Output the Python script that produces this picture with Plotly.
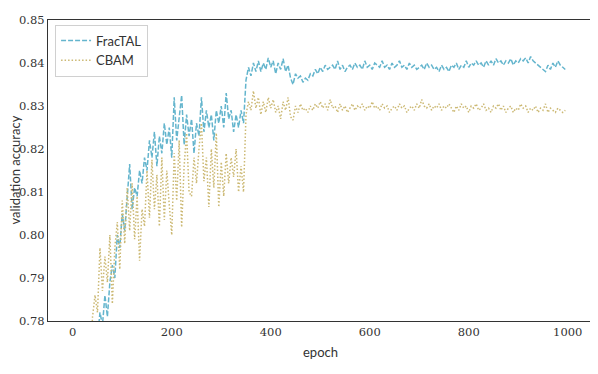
import plotly.graph_objects as go

# validation accuracy, one value every 5 epochs (0, 5, ..., 995)
fractal = [
    0.55, 0.66, 0.70, 0.72, 0.735, 0.745, 0.755, 0.762, 0.768, 0.774,
    0.776, 0.782, 0.779, 0.786, 0.781, 0.789, 0.793, 0.790, 0.800, 0.797,
    0.805, 0.801, 0.808, 0.8165, 0.806, 0.811, 0.809, 0.815, 0.812, 0.818,
    0.815, 0.822, 0.818, 0.824, 0.816, 0.823, 0.819, 0.826, 0.821, 0.825,
    0.818, 0.832, 0.822, 0.827, 0.8325, 0.821, 0.828, 0.823, 0.827, 0.819,
    0.826, 0.823, 0.832, 0.824, 0.829, 0.825, 0.828, 0.822, 0.829, 0.826,
    0.830, 0.825, 0.833, 0.827, 0.829, 0.824, 0.828, 0.825, 0.829, 0.826,
    0.836, 0.839, 0.837, 0.840, 0.838, 0.8405, 0.838, 0.840, 0.8385, 0.8412,
    0.839, 0.8405, 0.8375, 0.840, 0.8385, 0.841, 0.838, 0.8395, 0.8365, 0.835,
    0.8375, 0.8365, 0.837, 0.8355, 0.8365, 0.836, 0.8375, 0.837, 0.8385, 0.8375,
    0.839, 0.838, 0.8395, 0.8385, 0.839, 0.8395, 0.8385, 0.8405, 0.8385, 0.8395,
    0.838, 0.839, 0.8395, 0.8385, 0.840, 0.839, 0.8395, 0.8385, 0.8405, 0.839,
    0.8395, 0.8385, 0.840, 0.8395, 0.839, 0.8405, 0.839, 0.8395, 0.8385, 0.840,
    0.839, 0.8395, 0.8405, 0.839, 0.8395, 0.8385, 0.840, 0.839, 0.8395, 0.8385,
    0.839, 0.8395, 0.8385, 0.840, 0.839, 0.8395, 0.8385, 0.839, 0.838, 0.8395,
    0.8385, 0.839, 0.838, 0.8395, 0.839, 0.840, 0.8385, 0.8395, 0.839, 0.8405,
    0.839, 0.840, 0.8395, 0.8405, 0.8395, 0.840, 0.839, 0.8405, 0.8395, 0.8405,
    0.8395, 0.841, 0.840, 0.8405, 0.8395, 0.8405, 0.840, 0.841, 0.8395, 0.8405,
    0.840, 0.841, 0.8405, 0.8412, 0.840, 0.8415, 0.8405, 0.840, 0.8395, 0.839,
    0.8385, 0.838, 0.8395, 0.8385, 0.840, 0.839, 0.8405, 0.8395, 0.839, 0.8385,
]

cbam = [
    0.50, 0.62, 0.68, 0.71, 0.73, 0.75, 0.76, 0.772, 0.781, 0.786,
    0.782, 0.797, 0.787, 0.795, 0.789, 0.800, 0.784, 0.797, 0.803, 0.792,
    0.808, 0.798, 0.811, 0.801, 0.812, 0.799, 0.809, 0.794, 0.806, 0.802,
    0.815, 0.804, 0.8175, 0.806, 0.814, 0.802, 0.818, 0.8035, 0.815, 0.807,
    0.800, 0.819, 0.808, 0.822, 0.8018, 0.816, 0.8237, 0.810, 0.809, 0.818,
    0.812, 0.820, 0.826, 0.8125, 0.818, 0.8065, 0.820, 0.811, 0.8237, 0.8065,
    0.817, 0.809, 0.819, 0.812, 0.818, 0.8135, 0.820, 0.810, 0.816, 0.810,
    0.828, 0.831, 0.829, 0.8335, 0.8295, 0.832, 0.828, 0.831, 0.8285, 0.832,
    0.8295, 0.8315, 0.8285, 0.830, 0.827, 0.831, 0.829, 0.832, 0.8275, 0.8267,
    0.830, 0.8285, 0.8305, 0.829, 0.8295, 0.8285, 0.830, 0.829, 0.8305, 0.8295,
    0.831, 0.8295, 0.8305, 0.829, 0.8315, 0.8295, 0.830, 0.8285, 0.8305, 0.829,
    0.830, 0.8285, 0.8295, 0.8305, 0.829, 0.830, 0.8295, 0.8305, 0.829, 0.830,
    0.8295, 0.831, 0.8295, 0.830, 0.829, 0.8305, 0.8295, 0.830, 0.8285, 0.8295,
    0.830, 0.829, 0.8305, 0.8295, 0.830, 0.8285, 0.8295, 0.830, 0.829, 0.8305,
    0.8295, 0.8315, 0.830, 0.8295, 0.8305, 0.829, 0.830, 0.8295, 0.8305, 0.829,
    0.830, 0.8295, 0.8305, 0.8295, 0.8285, 0.830, 0.829, 0.8305, 0.8295, 0.830,
    0.8285, 0.830, 0.8295, 0.8305, 0.829, 0.8295, 0.8305, 0.829, 0.8295, 0.8285,
    0.830, 0.8295, 0.8305, 0.829, 0.830, 0.8285, 0.8295, 0.830, 0.8285, 0.8295,
    0.829, 0.8305, 0.8295, 0.830, 0.8285, 0.8295, 0.829, 0.830, 0.8285, 0.8295,
    0.829, 0.8305, 0.8285, 0.8295, 0.829, 0.8285, 0.8295, 0.829, 0.8285, 0.829,
]

epochs = list(range(0, 5 * len(fractal), 5))

x_ticks = [0, 200, 400, 600, 800, 1000]
y_ticks = [0.78, 0.79, 0.80, 0.81, 0.82, 0.83, 0.84, 0.85]

SANS = "Lato"
SERIF = "DejaVu Serif"
INK = "#333333"

fig = go.Figure()
fig.add_trace(go.Scatter(
    x=epochs, y=fractal, mode="lines", name="FracTAL",
    line=dict(color="#64B5CD", width=1.5, dash="5px,2px"),
))
fig.add_trace(go.Scatter(
    x=epochs, y=cbam, mode="lines", name="CBAM",
    line=dict(color="#CCB974", width=1.5, dash="1.5px,2px"),
))

axis_style = dict(
    showgrid=False, zeroline=False, showline=True, mirror=True,
    linecolor=INK, linewidth=1.25, ticks="", automargin=False,
    tickfont=dict(family=SERIF, size=11.5, color=INK),
)

# the page puts the plot 8px in from the top-left corner, so the figure is 8px smaller
fig.update_layout(
    width=590, height=366,
    margin=dict(l=40, r=6, t=12, b=53),
    plot_bgcolor="white", paper_bgcolor="white",
    font=dict(family=SANS, size=13, color=INK),
    showlegend=True,
    legend=dict(
        x=0.013, y=0.985, xanchor="left", yanchor="top",
        bgcolor="white", bordercolor="#d0d0d0", borderwidth=1,
        font=dict(family=SANS, size=13, color=INK),
        itemwidth=30, tracegroupgap=0,
    ),
    xaxis=dict(range=[-50, 1049], tickvals=x_ticks,
               ticktext=[str(t) for t in x_ticks], **axis_style),
    yaxis=dict(range=[0.78, 0.85], tickvals=y_ticks,
               ticktext=[f"{t:.2f}" for t in y_ticks], **axis_style),
    annotations=[
        dict(text="epoch", xref="paper", yref="paper", x=0.5, y=-0.103,
             xanchor="center", yanchor="middle", showarrow=False,
             font=dict(family=SANS, size=13, color=INK)),
        dict(text="validation accuracy", xref="paper", yref="paper", x=-0.0625, y=0.5,
             xanchor="center", yanchor="middle", textangle=-90, showarrow=False,
             font=dict(family=SANS, size=13, color=INK)),
    ],
)

fig.write_html("out.html")
